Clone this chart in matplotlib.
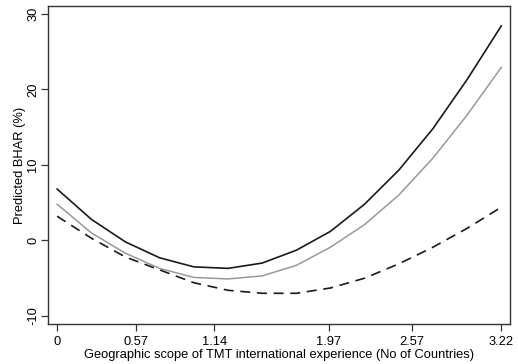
import numpy as np
import matplotlib
matplotlib.use("Agg")
import matplotlib.pyplot as plt

plt.rcParams['font.family'] = ['Liberation Sans', 'DejaVu Sans']

# 14 evaluation points between 0 and 3.22 countries
scope = np.linspace(0, 3.22, 14)
bhar_high = [6.8, 2.8, -0.2, -2.3, -3.5, -3.7, -3.0, -1.3, 1.2, 4.8, 9.3, 14.8, 21.3, 28.4]
bhar_mid = [4.8, 1.0, -1.7, -3.7, -4.9, -5.1, -4.7, -3.3, -0.9, 2.1, 6.0, 10.9, 16.6, 22.9]
bhar_low = [3.2, 0.3, -2.2, -3.9, -5.6, -6.6, -7.0, -7.0, -6.3, -5.0, -3.1, -0.9, 1.6, 4.4]

xticks = [0, 0.57, 1.14, 1.97, 2.57, 3.22]
xticklabels = ['0', '0.57', '1.14', '1.97', '2.57', '3.22']
yticks = [-10, 0, 10, 20, 30]

fig = plt.figure(figsize=(5.18, 3.64), dpi=100)
ax = fig.add_axes([0.093, 0.11, 0.892, 0.874])

ax.plot(scope, bhar_high, color='#1a1a1a', lw=1.2)
ax.plot(scope, bhar_mid, color='#999999', lw=1.1)
ax.plot(scope, bhar_low, color='#1a1a1a', lw=1.2, dashes=(6, 4))

ax.set_xlim(-0.065, 3.285)
ax.set_ylim(-11.06, 31.06)
ax.set_xticks(xticks)
ax.set_xticklabels(xticklabels)
ax.set_yticks(yticks)
ax.set_yticklabels([str(v) for v in yticks], rotation=90, va='center')
ax.tick_params(direction='out', length=5, width=0.9, labelsize=9.3, color='#333333')
ax.tick_params(axis='y', pad=1.5)

for s in ax.spines.values():
    s.set_color('#333333')
    s.set_linewidth(1.0)

ax.set_xlabel('Geographic scope of TMT international experience (No of Countries)', fontsize=9.3, labelpad=1)
ax.set_ylabel('Predicted BHAR (%)', fontsize=9.3, labelpad=0.5)

fig.savefig('out.png', dpi=100)
